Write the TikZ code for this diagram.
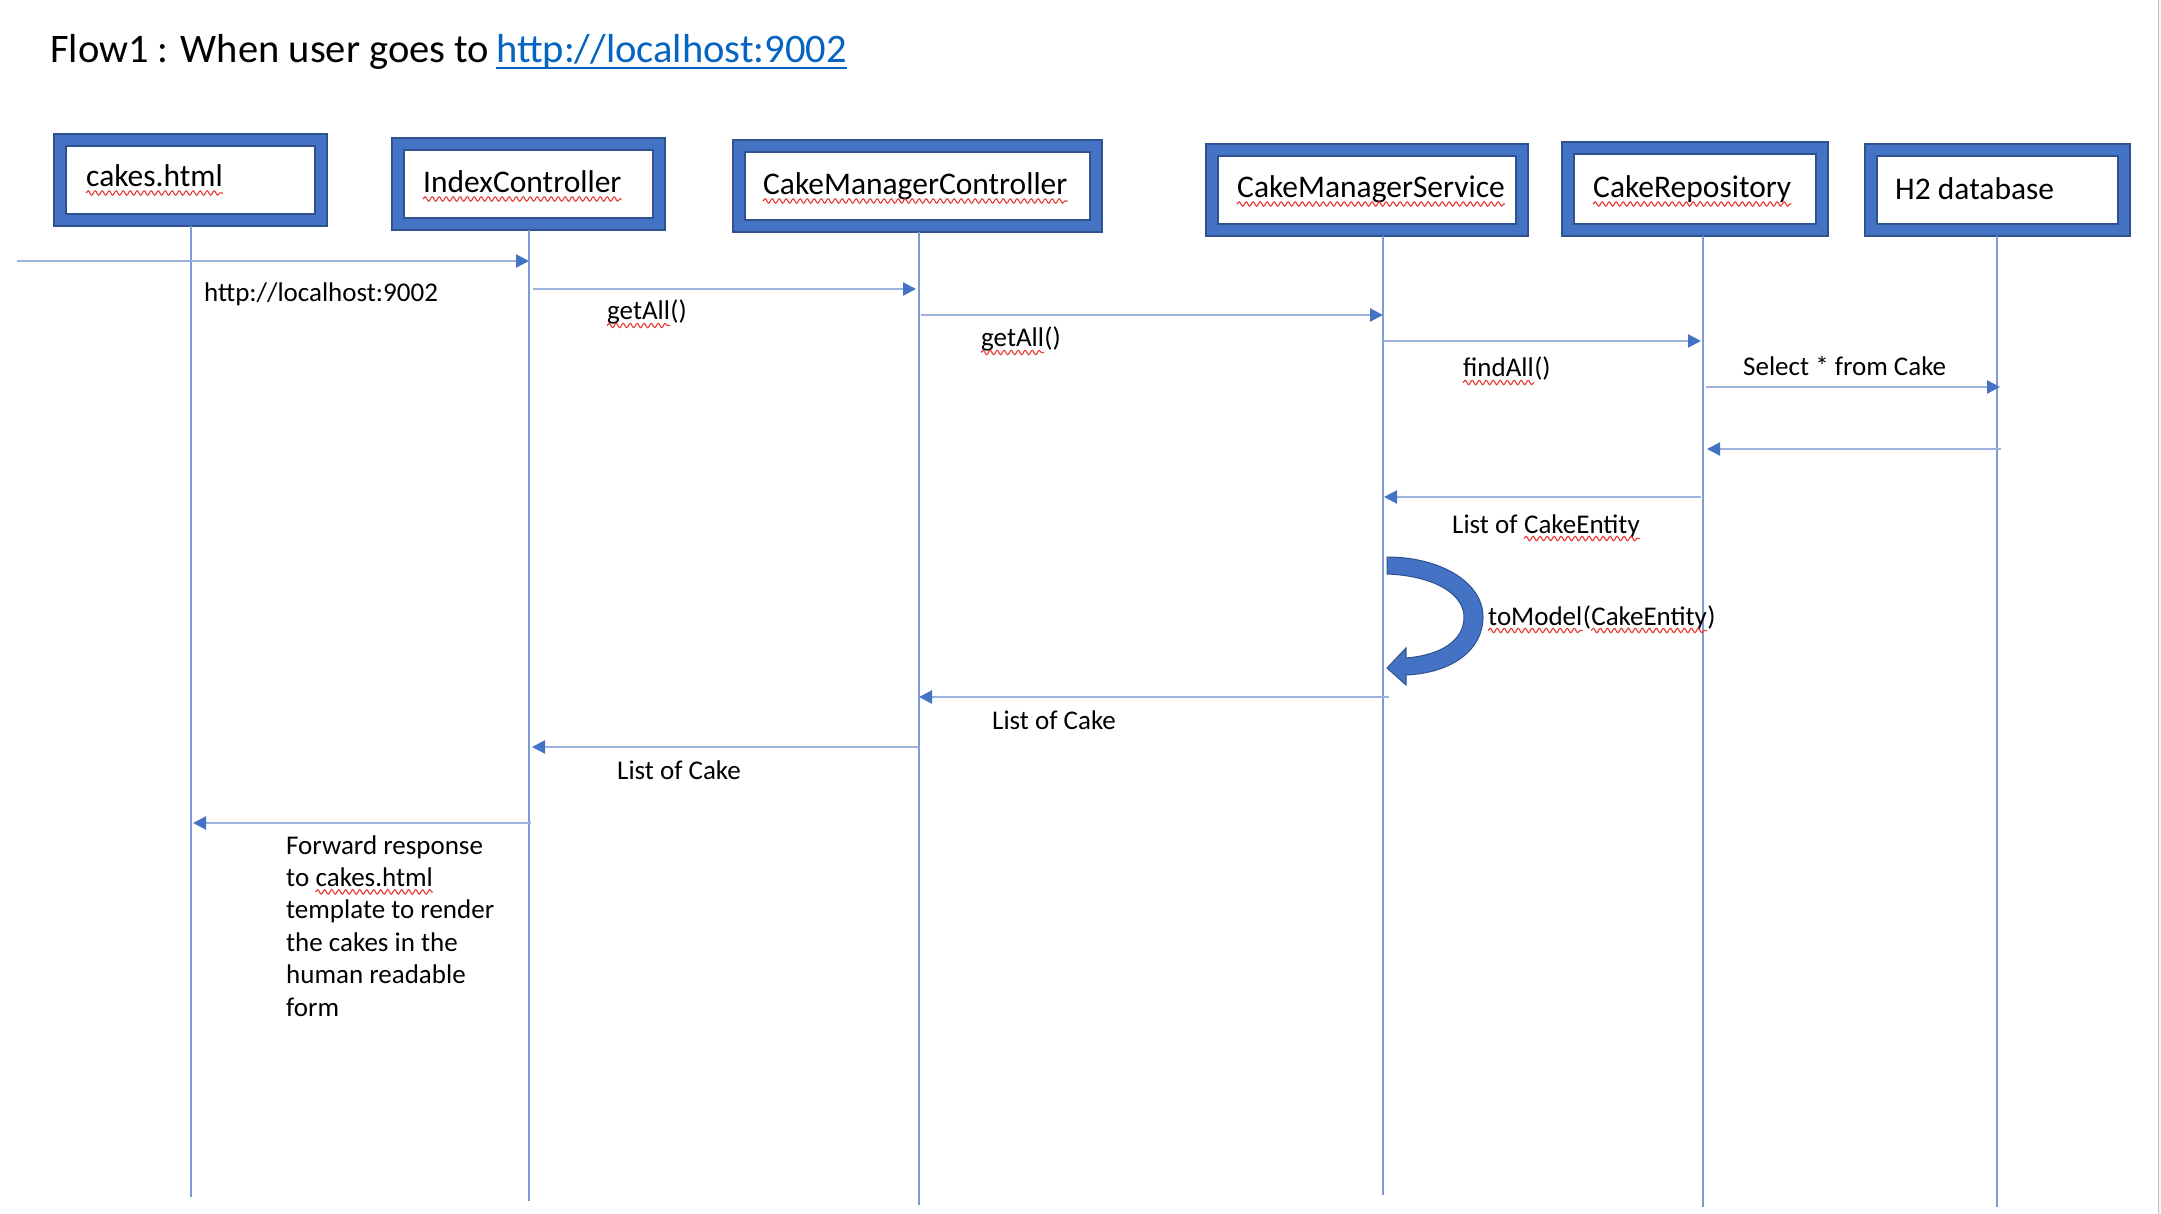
\documentclass[tikz,border=0pt]{standalone}
\usepackage{fontspec}
\setmainfont{Carlito}
\usetikzlibrary{arrows.meta,decorations.pathmorphing,calc}
\definecolor{frameblue}{HTML}{4472C4}
\definecolor{edgeblue}{HTML}{2F528F}
\definecolor{lifeblue}{HTML}{7F9BD6}
\definecolor{msgblue}{HTML}{9DB2DF}
\definecolor{tipblue}{HTML}{4472C4}
\definecolor{linkblue}{HTML}{0563C1}
\definecolor{squigred}{HTML}{E8392F}
\begin{document}
\begin{tikzpicture}[x=1pt,y=-1pt,
  lanebox/.style 2 args={draw=edgeblue,fill=frameblue,line width=2pt,inner sep=0,minimum width=#1,minimum height=#2},
  laneinner/.style 2 args={draw=edgeblue,fill=white,line width=1.2pt,inner sep=0,minimum width=#1-24,minimum height=#2-24},
  boxtxt/.style={anchor=base west,inner sep=0,font=\fontsize{31.5}{38}\selectfont},
  lbl/.style={anchor=base west,inner sep=0,font=\fontsize{27}{32.4}\selectfont},
  life/.style={draw=lifeblue,line width=1.1pt},
  msg/.style={draw=msgblue,line width=2.2pt,-{Triangle[length=13pt,width=13pt,color=tipblue]}},
  squig/.style={draw=squigred,line width=1.1pt,decorate,decoration={snake,amplitude=2.2pt,segment length=7pt}}]
\useasboundingbox (0,0) rectangle (2161,1214);
\fill[white] (0,0) rectangle (2161,1214);
\fill[black!3] (2158.5,0) rectangle (2161,1214);
\draw[black!25,line width=1pt] (2158,0) -- (2158,1214);

% title
\node[anchor=base west,inner sep=0,font=\fontsize{40.5}{48}\selectfont] (title) at (50,63) {Flow1 : When user goes to};
\node[anchor=base west,inner sep=0,font=\fontsize{40.5}{48}\selectfont,text=linkblue] (link) at (496,63) {http://localhost:9002};
\draw[linkblue,line width=2.6pt] ([yshift=-5pt]link.base west) -- ([yshift=-5pt]link.base east);

% participant boxes
\node[lanebox={273}{92}] (b1) at (190.5,180) {};
\node[laneinner={273}{92}] (i1) at (190.5,180) {};
\node[lanebox={273}{92}] (b2) at (528.5,184) {};
\node[laneinner={273}{92}] (i2) at (528.5,184) {};
\node[lanebox={369}{92}] (b3) at (917.5,186) {};
\node[laneinner={369}{92}] (i3) at (917.5,186) {};
\node[lanebox={322}{92}] (b4) at (1367,190) {};
\node[laneinner={322}{92}] (i4) at (1367,190) {};
\node[lanebox={266}{94}] (b5) at (1695,189) {};
\node[laneinner={266}{94}] (i5) at (1695,189) {};
\node[lanebox={265}{92}] (b6) at (1997.5,190) {};
\node[laneinner={265}{92}] (i6) at (1997.5,190) {};

\node[boxtxt] (n1) at (86,187) {cakes.html};
\node[boxtxt] (n2) at (423,193) {IndexController};
\node[boxtxt] (n3) at (763,195) {CakeManagerController};
\node[boxtxt] (n4) at (1237,198) {CakeManagerService};
\node[boxtxt] (n5) at (1593,198) {CakeRepository};
\node[boxtxt] (n6) at (1895,200) {H2 database};
\foreach \n in {n1,n2,n3,n4,n5}
  \draw[squig] ([yshift=-6pt]\n.base west) -- ([yshift=-6pt]\n.base east);

% lifelines
\coordinate (s1) at (191,226);  \coordinate (e1) at (191,1197);
\coordinate (s2) at (529,230);  \coordinate (e2) at (529,1201);
\coordinate (s3) at (919,232);  \coordinate (e3) at (919,1205);
\coordinate (s4) at (1383,236); \coordinate (e4) at (1383,1195);
\coordinate (s5) at (1703,236); \coordinate (e5) at (1703,1207);
\coordinate (s6) at (1997,236); \coordinate (e6) at (1997,1207);
\foreach \i in {1,...,6} \draw[life] (s\i) -- (e\i);

% messages
\coordinate (m1a) at (17,261);   \coordinate (m1b) at (529,261);
\coordinate (m2a) at (533,289);  \coordinate (m2b) at (916,289);
\coordinate (m3a) at (921,315);  \coordinate (m3b) at (1383,315);
\coordinate (m4a) at (1383,341); \coordinate (m4b) at (1701,341);
\coordinate (m5a) at (1706,387); \coordinate (m5b) at (2000,387);
\coordinate (m6a) at (2001,449); \coordinate (m6b) at (1707,449);
\coordinate (m7a) at (1701,497); \coordinate (m7b) at (1384,497);
\coordinate (m9a) at (1389,697); \coordinate (m9b) at (919,697);
\coordinate (m10a) at (919,747); \coordinate (m10b) at (532,747);
\coordinate (m11a) at (531,823); \coordinate (m11b) at (193,823);
\foreach \m in {m1,m2,m3,m4,m5,m6,m7,m9,m10,m11}
  \draw[msg] (\m a) -- (\m b);

% self call arrow
\filldraw[fill=frameblue,draw=edgeblue,line width=1pt]
  (1387,557) .. controls (1440,557) and (1483,582) .. (1483,617)
  .. controls (1483,650) and (1452,673) .. (1406,675)
  -- (1406,685) -- (1387,668) -- (1406,648) -- (1406,658)
  .. controls (1442,655) and (1464,640) .. (1464,617)
  .. controls (1464,595) and (1436,576) .. (1387,574) -- cycle;

% labels
\node[lbl] (l1) at (204,302) {http://localhost:9002};
\node[lbl] (l2) at (607,320) {getAll};
\node[lbl] (l2p) at (l2.base east) {()};
\node[lbl] (l3) at (981,347) {getAll};
\node[lbl] (l3p) at (l3.base east) {()};
\node[lbl] (l4) at (1463,377) {findAll};
\node[lbl] (l4p) at (l4.base east) {()};
\node[lbl] (l5) at (1743,376) {Select * from Cake};
\node[lbl] (l6) at (1452,533) {List of};
\node[lbl] (l6b) at ([xshift=6.1pt]l6.base east) {CakeEntity};
\node[lbl] (l7) at (1488,625) {toModel};
\node[lbl] (l7a) at (l7.base east) {(};
\node[lbl] (l7b) at (l7a.base east) {CakeEntity};
\node[lbl] (l7c) at (l7b.base east) {)};
\node[lbl] (l8) at (992,729) {List of Cake};
\node[lbl] (l9) at (617,779) {List of Cake};
\node[lbl] (f1) at (286,854) {Forward response};
\node[lbl] (f2) at (286,886.4) {to};
\node[lbl] (f2b) at ([xshift=6.1pt]f2.base east) {cakes.html};
\node[lbl] (f3) at (286,918.8) {template to render};
\node[lbl] (f4) at (286,951.2) {the cakes in the};
\node[lbl] (f5) at (286,983.6) {human readable};
\node[lbl] (f6) at (286,1016) {form};
\foreach \n in {l2,l3,l4,l6b,l7,l7b,f2b}
  \draw[squig] ([yshift=-5.5pt]\n.base west) -- ([yshift=-5.5pt]\n.base east);
\end{tikzpicture}
\end{document}
